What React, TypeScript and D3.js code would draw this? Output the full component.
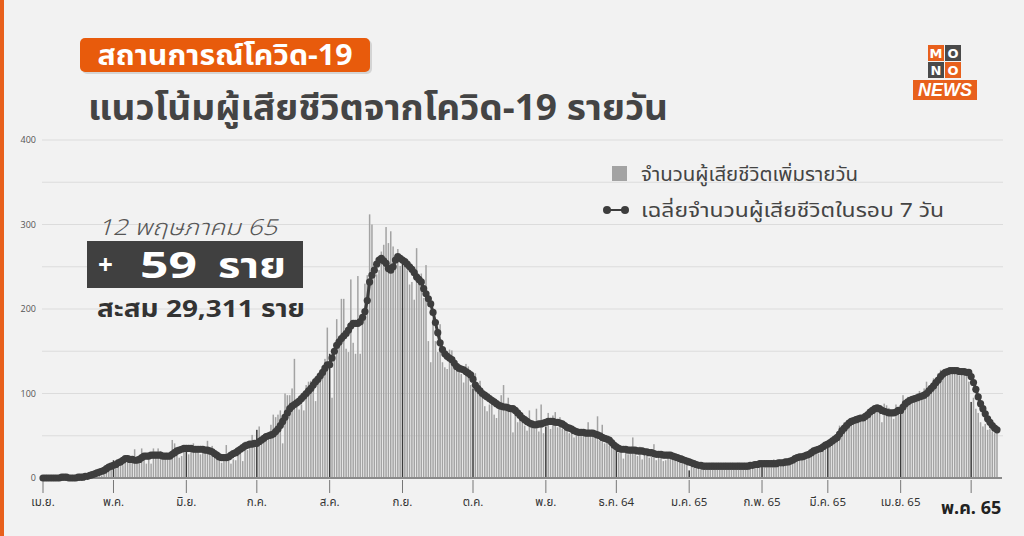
import * as d3 from 'd3';

const W = 1024;
const H = 536;
const FONT = "'Noto Sans Thai', 'Noto Sans', Tahoma, sans-serif";

// month keys of the series (first day of each block)
const months = [
    '2021-04', '2021-05', '2021-06', '2021-07', '2021-08', '2021-09', '2021-10',
    '2021-11', '2021-12', '2022-01', '2022-02', '2022-03', '2022-04', '2022-05',
];

const monthLabels = [
    'เม.ย.', 'พ.ค.', 'มิ.ย.', 'ก.ค.', 'ส.ค.', 'ก.ย.', 'ต.ค.',
    'พ.ย.', 'ธ.ค. 64', 'ม.ค. 65', 'ก.พ. 65', 'มี.ค. 65', 'เม.ย. 65', 'พ.ค. 65',
];

const yTicks = [0, 100, 200, 300, 400];
const yGrid = [50, 100, 150, 200, 250, 300, 350, 400];

// daily deaths, one list per month
const deathsByMonth: number[][] = [
    [0, 0, 1, 0, 0, 0, 1, 0, 0, 0, 0, 0, 1, 0, 1, 2, 1, 2, 3, 3, 4, 8, 7, 4, 11, 3, 8, 15, 11, 13],
    [21, 15, 20, 18, 15, 24, 27, 19, 25, 34, 26, 23, 35, 23, 17, 25, 17, 35, 31, 35, 32, 22, 28, 25, 26, 45, 41, 30, 24, 26, 37],
    [38, 28, 35, 41, 35, 33, 28, 36, 30, 44, 33, 38, 30, 27, 26, 18, 20, 39, 25, 17, 22, 21, 28, 29, 20, 43, 33, 37, 51, 42],
    [57, 61, 44, 52, 53, 54, 63, 75, 72, 75, 80, 41, 100, 98, 98, 106, 141, 92, 81, 87, 80, 110, 114, 115, 103, 91, 117, 118, 132, 141, 178],
    [147, 95, 160, 188, 160, 212, 212, 153, 149, 235, 160, 147, 239, 147, 186, 230, 240, 312, 300, 238, 241, 246, 268, 276, 297, 278, 292, 274, 264, 271, 251],
    [256, 252, 246, 229, 232, 211, 272, 232, 242, 213, 252, 162, 137, 189, 162, 149, 182, 137, 131, 129, 152, 151, 143, 130, 132, 123, 113, 135, 132, 110],
    [106, 124, 104, 115, 101, 85, 79, 87, 95, 75, 71, 85, 98, 110, 81, 95, 78, 54, 81, 66, 79, 71, 62, 56, 80, 67, 60, 82, 55, 87, 53],
    [61, 77, 58, 74, 78, 60, 72, 58, 64, 59, 53, 62, 48, 52, 58, 50, 57, 55, 66, 50, 49, 52, 73, 44, 63, 41, 43, 38, 47, 34],
    [33, 30, 32, 23, 32, 28, 33, 48, 31, 26, 37, 22, 31, 27, 24, 25, 40, 21, 28, 25, 20, 21, 30, 28, 23, 22, 24, 21, 27, 21, 18],
    [9, 14, 12, 15, 13, 12, 14, 10, 13, 16, 18, 12, 14, 15, 13, 12, 17, 13, 12, 14, 16, 18, 11, 17, 15, 12, 14, 19, 13, 18, 17],
    [18, 17, 15, 17, 19, 22, 16, 21, 20, 18, 16, 22, 20, 23, 22, 25, 26, 29, 24, 22, 27, 31, 28, 30, 29, 34, 32, 43],
    [43, 40, 47, 45, 50, 62, 60, 66, 64, 63, 70, 67, 73, 74, 67, 70, 71, 73, 81, 76, 85, 84, 84, 66, 88, 86, 83, 78, 70, 87, 81],
    [83, 98, 91, 96, 92, 94, 98, 100, 103, 95, 106, 114, 104, 110, 118, 115, 124, 128, 127, 129, 129, 125, 124, 126, 128, 121, 127, 126, 124, 114],
    [90, 95, 82, 77, 66, 61, 64, 57, 58, 55, 53, 59],
];

// 7-day average as drawn, one list per month
const avg7ByMonth: number[][] = [
    [0, 0, 0, 0, 0, 0, 0, 0, 1, 1, 1, 0, 0, 0, 0, 1, 1, 1, 2, 2, 3, 4, 5, 6, 7, 8, 9, 11, 13, 14],
    [15, 16, 18, 19, 21, 23, 23, 22, 22, 21, 21, 22, 24, 26, 26, 26, 27, 27, 27, 27, 27, 26, 26, 26, 26, 28, 30, 32, 33, 34, 35],
    [35, 35, 35, 34, 34, 34, 34, 34, 33, 33, 32, 31, 29, 27, 25, 24, 24, 24, 25, 27, 29, 30, 32, 34, 36, 38, 39, 40, 40, 41],
    [41, 43, 45, 47, 49, 50, 51, 52, 55, 58, 62, 67, 72, 77, 82, 85, 87, 89, 91, 94, 97, 100, 103, 106, 110, 114, 117, 121, 125, 130, 134],
    [134, 142, 150, 157, 161, 165, 168, 171, 175, 180, 183, 183, 183, 185, 190, 197, 210, 232, 240, 246, 253, 258, 260, 257, 254, 248, 246, 250, 258, 262, 260],
    [258, 256, 253, 250, 247, 243, 238, 235, 232, 224, 218, 212, 206, 196, 184, 172, 160, 152, 147, 144, 142, 140, 136, 132, 130, 129, 128, 126, 124, 122],
    [117, 110, 106, 103, 100, 98, 96, 94, 92, 90, 88, 86, 85, 84, 84, 83, 82, 82, 80, 77, 74, 71, 69, 67, 65, 64, 63, 63, 64, 64, 65],
    [66, 67, 67, 67, 66, 66, 65, 64, 62, 60, 59, 58, 56, 55, 54, 54, 54, 53, 53, 53, 53, 52, 51, 50, 48, 47, 46, 45, 42, 39],
    [37, 35, 34, 34, 34, 33, 33, 33, 33, 32, 32, 32, 31, 31, 30, 30, 29, 28, 28, 28, 27, 27, 27, 27, 26, 25, 24, 23, 22, 21, 20],
    [19, 18, 17, 16, 15, 15, 14, 14, 14, 14, 14, 14, 14, 14, 14, 14, 14, 14, 14, 14, 14, 14, 14, 14, 14, 14, 15, 15, 16, 16, 17],
    [17, 17, 17, 17, 17, 17, 17, 18, 18, 18, 19, 19, 20, 21, 23, 24, 25, 25, 26, 27, 28, 30, 32, 33, 34, 35, 37, 39],
    [40, 42, 44, 46, 48, 52, 56, 59, 62, 65, 67, 68, 69, 70, 71, 71, 73, 75, 78, 80, 82, 83, 82, 80, 79, 78, 77, 77, 77, 78, 80],
    [80, 84, 88, 90, 92, 93, 94, 95, 96, 97, 98, 100, 103, 106, 109, 113, 116, 120, 123, 125, 126, 127, 127, 127, 127, 126, 126, 126, 125, 125],
    [120, 113, 105, 96, 88, 82, 76, 70, 66, 62, 59, 57],
];

interface Day {
    date: Date;
    value: number;
    avg: number;
    first: boolean;
}

const parseMonth = d3.timeParse('%Y-%m');

function Logo() {
    const s = 17;
    const cells = [
        { t: 'M', c: 0, r: 0, bg: '#e8601c' },
        { t: 'O', c: 1, r: 0, bg: '#4a4a4a' },
        { t: 'N', c: 0, r: 1, bg: '#4a4a4a' },
        { t: 'O', c: 1, r: 1, bg: '#e8601c' },
    ];
    return (
        <g transform="translate(928, 45)">
            {cells.map((d, i) => (
                <g key={i} transform={`translate(${d.c * s}, ${d.r * s})`}>
                    <rect width={s - 1} height={s - 1} fill={d.bg} />
                    <text x={(s - 1) / 2} y={13} textAnchor="middle" fill="#fff"
                        fontFamily="'DejaVu Sans', sans-serif" fontWeight={700} fontSize={13}>
                        {d.t}
                    </text>
                </g>
            ))}
            <rect x={-15} y={35} width={64} height={20} fill="#e8601c" />
            <text x={17} y={51} textAnchor="middle" fill="#fff" fontFamily="'Liberation Sans', sans-serif"
                fontWeight={700} fontStyle="italic" fontSize={18}>
                NEWS
            </text>
        </g>
    );
}

export default function App() {
    const data: Day[] = months.flatMap((m, mi) => {
        const start = parseMonth(m) as Date;
        return deathsByMonth[mi].map((v, j) => ({
            date: d3.timeDay.offset(start, j),
            value: v,
            avg: avg7ByMonth[mi][j],
            first: j === 0,
        }));
    });

    const x = d3
        .scaleTime()
        .domain([data[0].date, data[data.length - 1].date])
        .range([43, 997]);
    const y = d3.scaleLinear().domain([0, 400]).range([478, 140]);
    const barW = 1.5;

    const line = d3
        .line<Day>()
        .x((d) => x(d.date))
        .y((d) => y(d.avg));

    const monthDates = months.map((m) => parseMonth(m) as Date);

    return (
        <svg width={W} height={H} viewBox={`0 0 ${W} ${H}`}
            style={{ position: 'absolute', left: 0, top: 0, display: 'block', background: '#f2f2f2' }}
            fontFamily={FONT}>
            <rect width={W} height={H} fill="#f2f2f2" />
            <rect x={0} y={0} width={4} height={H} fill="#e8601c" />

            {/* header */}
            <rect x={82} y={40} width={290} height={34} rx={5} fill="#000" opacity={0.12} />
            <rect x={80} y={38} width={290} height={34} rx={5} fill="#e85b0c" />
            <text x={225} y={65} textAnchor="middle" fill="#fff" fontSize={29} fontWeight={700}
                textLength={255} lengthAdjust="spacingAndGlyphs">
                สถานการณ์โควิด-19
            </text>
            <text x={88} y={120} fill="#444" fontSize={35} fontWeight={700}
                textLength={580} lengthAdjust="spacingAndGlyphs">
                แนวโน้มผู้เสียชีวิตจากโควิด-19 รายวัน
            </text>
            <Logo />

            {/* grid */}
            {yGrid.map((v) => (
                <line key={v} x1={42} x2={1003} y1={y(v)} y2={y(v)} stroke="#dcdcdc" strokeWidth={1.2} />
            ))}
            {yTicks.map((v) => (
                <text key={v} x={36} y={y(v) + 3} textAnchor="end" fill="#555" fontSize={9}
                    fontFamily="'Open Sans', sans-serif">
                    {v}
                </text>
            ))}

            {/* bars */}
            {data.map((d, i) => (
                <rect key={i} x={x(d.date) - barW / 2} width={barW} y={y(d.value)}
                    height={y(0) - y(d.value)} fill={d.first ? '#3a3a3a' : '#a3a3a3'} />
            ))}

            {/* axis */}
            <line x1={42} x2={1002} y1={y(0)} y2={y(0)} stroke="#8a8a8a" strokeWidth={2} />
            {monthDates.map((d, i) => {
                const last = i === monthDates.length - 1;
                return (
                    <g key={i} transform={`translate(${x(d)}, 0)`}>
                        <line y1={480} y2={493} stroke="#777" strokeWidth={1} />
                        <text y={last ? 514 : 506} textAnchor="middle" fill={last ? '#222' : '#333'}
                            fontSize={last ? 18 : 11.5} fontWeight={last ? 700 : 400}>
                            {monthLabels[i]}
                        </text>
                    </g>
                );
            })}

            {/* 7-day average */}
            <path d={line(data) ?? ''} fill="none" stroke="#3d3d3d" strokeWidth={3} />
            {data.map((d, i) => (
                <circle key={i} cx={x(d.date)} cy={y(d.avg)} r={3.6} fill="#3d3d3d" />
            ))}

            {/* legend */}
            <rect x={612} y={166} width={15} height={15} fill="#a3a3a3" />
            <text x={641} y={181} fill="#444" fontSize={19} textLength={217} lengthAdjust="spacingAndGlyphs">
                จำนวนผู้เสียชีวิตเพิ่มรายวัน
            </text>
            <line x1={606} x2={626} y1={210} y2={210} stroke="#3d3d3d" strokeWidth={2} />
            <circle cx={607} cy={210} r={4} fill="#3d3d3d" />
            <circle cx={625} cy={210} r={4} fill="#3d3d3d" />
            <text x={641} y={217} fill="#444" fontSize={19} textLength={303} lengthAdjust="spacingAndGlyphs">
                เฉลี่ยจำนวนผู้เสียชีวิตในรอบ 7 วัน
            </text>

            {/* annotation */}
            <text x={98} y={235} fill="#555" fontSize={22} fontStyle="italic" fontWeight={300}
                textLength={179} lengthAdjust="spacingAndGlyphs">
                12 พฤษภาคม 65
            </text>
            <rect x={87} y={241} width={216} height={47} fill="#404040" />
            <text x={98} y={274} fill="#fff" fontSize={26} fontWeight={700}>+</text>
            <text x={140} y={278} fill="#fff" fontSize={35} fontWeight={700}
                textLength={57} lengthAdjust="spacingAndGlyphs">59</text>
            <text x={218} y={278} fill="#fff" fontSize={35} fontWeight={700}
                textLength={68} lengthAdjust="spacingAndGlyphs">ราย</text>
            <text x={97} y={317} fill="#333" fontSize={24} fontWeight={700}
                textLength={208} lengthAdjust="spacingAndGlyphs">
                สะสม 29,311 ราย
            </text>
        </svg>
    );
}
